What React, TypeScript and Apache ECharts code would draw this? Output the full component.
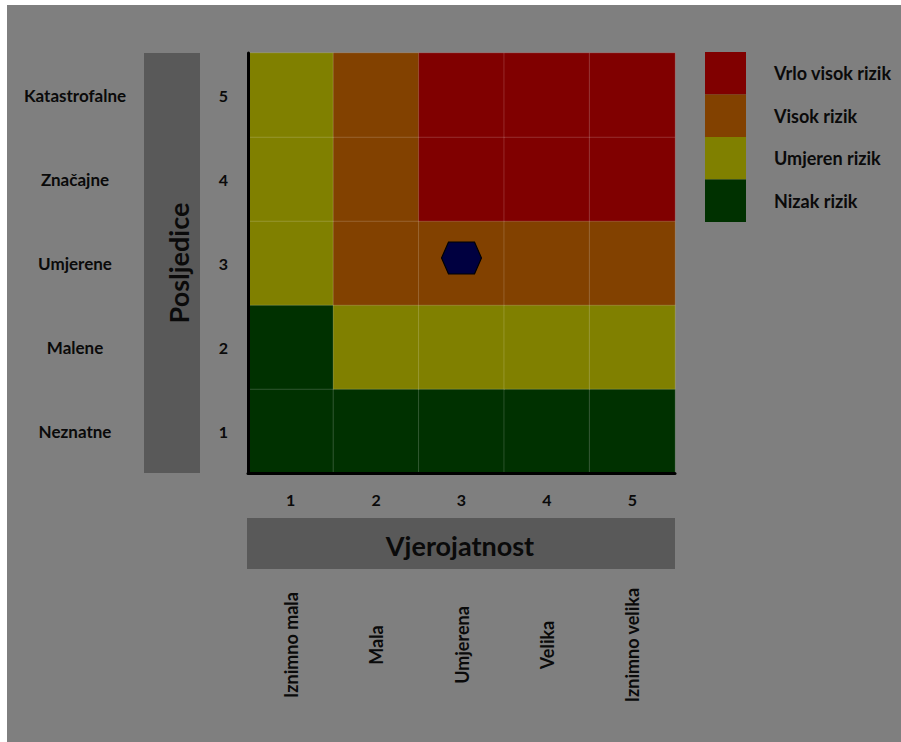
import React, { useEffect, useRef } from "react";
import * as echarts from "echarts";

const likelihoodTicks = ["1", "2", "3", "4", "5"];
const likelihoodNames = ["Iznimno mala", "Mala", "Umjerena", "Velika", "Iznimno velika"];
const consequenceTicks = ["1", "2", "3", "4", "5"];
const consequenceNames = ["Neznatne", "Malene", "Umjerene", "Značajne", "Katastrofalne"];

// risk level per consequence row (1..5), per likelihood column (1..5)
const riskRow1 = [1, 1, 1, 1, 1];
const riskRow2 = [1, 2, 2, 2, 2];
const riskRow3 = [2, 3, 3, 3, 3];
const riskRow4 = [2, 3, 4, 4, 4];
const riskRow5 = [2, 3, 4, 4, 4];
const riskRows = [riskRow1, riskRow2, riskRow3, riskRow4, riskRow5];

const riskLevels = [4, 3, 2, 1];
const riskLabels = ["Vrlo visok rizik", "Visok rizik", "Umjeren rizik", "Nizak rizik"];
const riskColors = ["#800000", "#824100", "#808000", "#003100"];

// assessed position: [likelihood, consequence]
const assessedPoint = ["3", "3"];

const xAxisTitle = "Vjerojatnost";
const yAxisTitle = "Posljedice";

const FONT = "Lato, 'Open Sans', sans-serif";

export default function App() {
  const ref = useRef<HTMLDivElement>(null);
  useEffect(() => {
    if (!ref.current) return;
    const chart = echarts.init(ref.current, null, { renderer: "svg" });
    const heatData: number[][] = [];
    riskRows.forEach((row, yi) => row.forEach((v, xi) => heatData.push([xi, yi, v])));

    const option: any = {
      animation: false,
      backgroundColor: "#ffffff",
      graphic: [
        { type: "rect", shape: { x: 7, y: 5, width: 894, height: 737 }, style: { fill: "#7f7f7f" }, z: -10 },
        { type: "rect", shape: { x: 144, y: 53, width: 56, height: 420 }, style: { fill: "#595959" }, z: -1 },
        {
          type: "text", x: 178, y: 263, rotation: Math.PI / 2,
          style: { text: yAxisTitle, fill: "#0a0a0a", font: `bold 27px ${FONT}`, align: "center", verticalAlign: "middle" },
        },
        { type: "rect", shape: { x: 247, y: 518, width: 428, height: 51 }, style: { fill: "#595959" }, z: -1 },
        {
          type: "text", x: 460, y: 545,
          style: { text: xAxisTitle, fill: "#0a0a0a", font: `bold 27px ${FONT}`, align: "center", verticalAlign: "middle" },
        },
      ],
      grid: { left: 248, top: 53, width: 427, height: 420, containLabel: false },
      xAxis: [
        {
          type: "category", data: likelihoodTicks, position: "bottom",
          axisLine: { show: true, lineStyle: { color: "#000", width: 3 } },
          axisTick: { show: false }, splitLine: { show: false },
          axisLabel: { color: "#0a0a0a", fontFamily: FONT, fontWeight: "bold", fontSize: 16, margin: 18 },
          z: 10,
        },
        {
          type: "category", data: likelihoodNames, position: "bottom", gridIndex: 0,
          axisLine: { show: false }, axisTick: { show: false }, splitLine: { show: false },
          axisLabel: {
            rotate: 90, align: "center", verticalAlign: "middle", margin: 172,
            color: "#0a0a0a", fontFamily: FONT, fontWeight: "bold", fontSize: 18,
          },
        },
      ],
      yAxis: [
        {
          type: "category", data: consequenceTicks, position: "left",
          axisLine: { show: true, lineStyle: { color: "#000", width: 3 } },
          axisTick: { show: false }, splitLine: { show: false },
          axisLabel: { color: "#0a0a0a", fontFamily: FONT, fontWeight: "bold", fontSize: 16, margin: 20 },
          z: 10,
        },
        {
          type: "category", data: consequenceNames, position: "left", offset: 173, gridIndex: 0,
          axisLine: { show: false }, axisTick: { show: false }, splitLine: { show: false },
          axisLabel: { align: "center", margin: 0, color: "#0a0a0a", fontFamily: FONT, fontWeight: "bold", fontSize: 17 },
        },
      ],
      visualMap: {
        type: "piecewise",
        dimension: 2,
        seriesIndex: 0,
        orient: "vertical",
        align: "left",
        left: 690,
        top: 37,
        itemWidth: 41,
        itemHeight: 42.5,
        itemGap: 0,
        textGap: 28,
        itemSymbol: "rect",
        selectedMode: false,
        textStyle: { color: "#0a0a0a", fontFamily: FONT, fontWeight: "bold", fontSize: 18 },
        pieces: riskLevels.map((v, i) => ({ value: v, label: riskLabels[i], color: riskColors[i] })),
      },
      series: [
        {
          type: "heatmap",
          xAxisIndex: 0, yAxisIndex: 0,
          data: heatData,
          itemStyle: { borderColor: "rgba(255,255,255,0.16)", borderWidth: 1 },
          emphasis: { disabled: true },
          z: 1,
        },
        {
          type: "scatter",
          xAxisIndex: 0, yAxisIndex: 0,
          data: [assessedPoint],
          symbol: "path://M0,16 L7,0 L33,0 L40,16 L33,32 L7,32 Z",
          symbolSize: [40, 32],
          symbolOffset: [0, -5],
          itemStyle: { color: "#000040", borderColor: "#000", borderWidth: 1, opacity: 1 },
          emphasis: { disabled: true },
          z: 5,
        },
      ],
    };
    chart.setOption(option);
    return () => chart.dispose();
  }, []);
  return (
    <div
      ref={ref}
      style={{ position: "absolute", left: 0, top: 0, width: 901, height: 742 }}
    />
  );
}
